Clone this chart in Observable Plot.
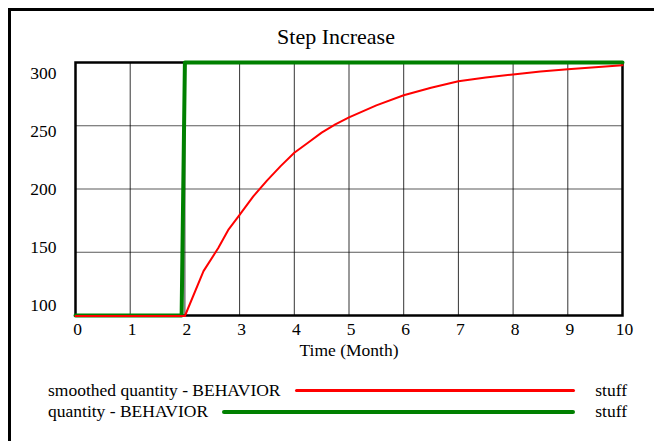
<!DOCTYPE html>
<html>
<head>
<meta charset="utf-8">
<script src="https://cdn.jsdelivr.net/npm/d3@7"></script>
<script src="https://cdn.jsdelivr.net/npm/@observablehq/plot@0.6"></script>
<style>
  html, body { margin: 0; padding: 0; background: #fff; overflow: hidden; }
  #wrap { position: relative; width: 654px; height: 441px; overflow: hidden; background: #fff;
          font-family: "Liberation Serif", "Times New Roman", serif; color: #000; }
  #bTop { position: absolute; left: 8px; top: 8px; width: 646px; height: 3px; background: #000; }
  #bLeft { position: absolute; left: 8px; top: 8px; width: 3px; height: 433px; background: #000; }
  #chart { position: absolute; left: 0; top: 0; }
  #title { position: absolute; left: 236px; width: 200px; top: 23px; text-align: center; font-size: 22px; line-height: 28px; }
  #legend { position: absolute; left: 48px; width: 579px; top: 380px; font-size: 17.5px; }
  .row { display: flex; align-items: center; height: 21px; white-space: nowrap; }
  .line { flex: 1; margin: 0 20px 0 14px; border-radius: 2px; }
</style>
</head>
<body>
<div id="wrap">
  <div id="bTop"></div>
  <div id="bLeft"></div>
  <div id="chart"></div>
  <div id="title">Step Increase</div>
  <div id="legend">
    <div class="row"><span>smoothed quantity - BEHAVIOR</span><div class="line" style="height:2.5px;background:#ff0000"></div><span>stuff</span></div>
    <div class="row"><span>quantity - BEHAVIOR</span><div class="line" style="height:4px;background:#008000"></div><span>stuff</span></div>
  </div>
</div>
<script>
const months = [0, 1, 2, 3, 4, 5, 6, 7, 8, 9, 10];
const yTicks = [100, 150, 200, 250, 300];

const quantityTime = [0, 1.94, 2, 10];
const quantityValue = [100, 100, 300, 300];

const smoothTime = [0, 2, 2.34, 2.61, 2.8, 3, 3.25, 3.5, 3.75, 4, 4.25, 4.5, 4.75, 5, 5.5, 6, 6.5, 7, 7.5, 8, 8.5, 9, 9.5, 10];
const smoothValue = [100, 100, 135.5, 153.7, 168.5, 180, 194.5, 207, 218.5, 229, 237, 245, 251.5, 257, 266.5, 274.5, 280.5, 285.5, 288.5, 291, 293.2, 295, 296.7, 298.2];

const quantity = quantityTime.map((t, i) => ({t, v: quantityValue[i]}));
const smoothed = smoothTime.map((t, i) => ({t, v: smoothValue[i]}));

const plot = Plot.plot({
  width: 654,
  height: 441,
  marginLeft: 75,
  marginRight: 32,
  marginTop: 62,
  marginBottom: 126,
  x: {domain: [0, 10]},
  y: {domain: [100, 300], axis: null},
  style: {fontFamily: '"Liberation Serif", "Times New Roman", serif', fontSize: "17.5px", color: "#000", background: "transparent", overflow: "visible"},
  marks: [
    Plot.gridX(months, {stroke: "#000", strokeOpacity: 0.8, strokeWidth: 1}),
    Plot.gridY(yTicks, {stroke: "#000", strokeOpacity: 0.65, strokeWidth: 1}),
    Plot.frame({stroke: "#000", strokeWidth: 2.5}),
    Plot.axisX(months, {tickSize: 0, tickPadding: 7, dx: 2, label: "Time (Month)", labelAnchor: "center", labelArrow: "none", labelOffset: 40}),
    ...yTicks.map(v => Plot.text([v], {y: d => d, frameAnchor: "left", text: d => String(d), textAnchor: "end", dx: -19, dy: (v - 200) * 0.105})),
    Plot.line(quantity, {x: "t", y: "v", stroke: "#008000", strokeWidth: 4}),
    Plot.line(smoothed, {x: "t", y: "v", stroke: "#ff0000", strokeWidth: 2, dy: 0.5})
  ]
});
document.getElementById("chart").appendChild(plot);
</script>
</body>
</html>
